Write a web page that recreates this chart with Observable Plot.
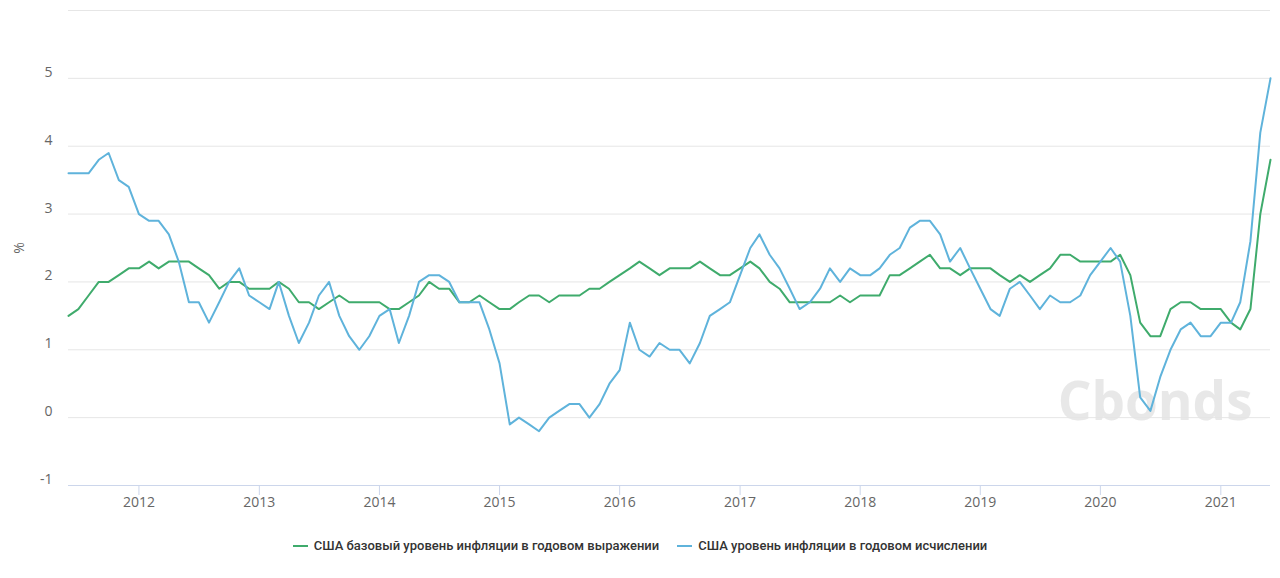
<!DOCTYPE html>
<html>
<head>
<meta charset="utf-8">
<script src="https://cdn.jsdelivr.net/npm/d3@7"></script>
<script src="https://cdn.jsdelivr.net/npm/@observablehq/plot@0.6"></script>
<style>
  html, body { margin: 0; padding: 0; background: #fff; }
  #chart { width: 1280px; }
  .legend { display: flex; justify-content: center; align-items: center; gap: 18px;
            font-family: Roboto, sans-serif; font-size: 13px; font-weight: 500; color: #333;
            margin-top: 13px; }
  .legend .item { display: flex; align-items: center; gap: 6px; }
  .legend .sw { display: inline-block; width: 15px; height: 2px; }
</style>
</head>
<body>
<div id="chart"></div>
<script>
// Monthly observations, first period May 2011; each value drawn at the end of its month
const firstPeriod = "2011-05-01";
const seriesNames = [
  "США базовый уровень инфляции в годовом выражении",
  "США уровень инфляции в годовом исчислении"
];
const seriesColors = ["#3fab6c", "#5fb3db"];

// Core CPI, % YoY
const coreCPI = [
  1.5, 1.6, 1.8, 2.0, 2.0, 2.1, 2.2, 2.2,
  2.3, 2.2, 2.3, 2.3, 2.3, 2.2, 2.1, 1.9, 2.0, 2.0, 1.9, 1.9,
  1.9, 2.0, 1.9, 1.7, 1.7, 1.6, 1.7, 1.8, 1.7, 1.7, 1.7, 1.7,
  1.6, 1.6, 1.7, 1.8, 2.0, 1.9, 1.9, 1.7, 1.7, 1.8, 1.7, 1.6,
  1.6, 1.7, 1.8, 1.8, 1.7, 1.8, 1.8, 1.8, 1.9, 1.9, 2.0, 2.1,
  2.2, 2.3, 2.2, 2.1, 2.2, 2.2, 2.2, 2.3, 2.2, 2.1, 2.1, 2.2,
  2.3, 2.2, 2.0, 1.9, 1.7, 1.7, 1.7, 1.7, 1.7, 1.8, 1.7, 1.8,
  1.8, 1.8, 2.1, 2.1, 2.2, 2.3, 2.4, 2.2, 2.2, 2.1, 2.2, 2.2,
  2.2, 2.1, 2.0, 2.1, 2.0, 2.1, 2.2, 2.4, 2.4, 2.3, 2.3, 2.3,
  2.3, 2.4, 2.1, 1.4, 1.2, 1.2, 1.6, 1.7, 1.7, 1.6, 1.6, 1.6,
  1.4, 1.3, 1.6, 3.0, 3.8
];
// Headline CPI, % YoY
const headlineCPI = [
  3.6, 3.6, 3.6, 3.8, 3.9, 3.5, 3.4, 3.0,
  2.9, 2.9, 2.7, 2.3, 1.7, 1.7, 1.4, 1.7, 2.0, 2.2, 1.8, 1.7,
  1.6, 2.0, 1.5, 1.1, 1.4, 1.8, 2.0, 1.5, 1.2, 1.0, 1.2, 1.5,
  1.6, 1.1, 1.5, 2.0, 2.1, 2.1, 2.0, 1.7, 1.7, 1.7, 1.3, 0.8,
  -0.1, 0.0, -0.1, -0.2, 0.0, 0.1, 0.2, 0.2, 0.0, 0.2, 0.5, 0.7,
  1.4, 1.0, 0.9, 1.1, 1.0, 1.0, 0.8, 1.1, 1.5, 1.6, 1.7, 2.1,
  2.5, 2.7, 2.4, 2.2, 1.9, 1.6, 1.7, 1.9, 2.2, 2.0, 2.2, 2.1,
  2.1, 2.2, 2.4, 2.5, 2.8, 2.9, 2.9, 2.7, 2.3, 2.5, 2.2, 1.9,
  1.6, 1.5, 1.9, 2.0, 1.8, 1.6, 1.8, 1.7, 1.7, 1.8, 2.1, 2.3,
  2.5, 2.3, 1.5, 0.3, 0.1, 0.6, 1.0, 1.3, 1.4, 1.2, 1.2, 1.4,
  1.4, 1.7, 2.6, 4.2, 5.0
];

const yTickLabels = [-1, 0, 1, 2, 3, 4, 5];
const yGrid = [-1, 0, 1, 2, 3, 4, 5, 6];
const xTickYears = ["2012","2013","2014","2015","2016","2017","2018","2019","2020","2021"];

const start = new Date(firstPeriod + "T00:00:00Z");
const rows = [];
[coreCPI, headlineCPI].forEach((vals, s) => {
  vals.forEach((v, i) => {
    rows.push({series: seriesNames[s], date: d3.utcMonth.offset(start, i + 1), value: v});
  });
});
const xTicks = xTickYears.map(y => new Date(y + "-01-01T00:00:00Z"));

const chart = Plot.plot({
  width: 1280,
  height: 525,
  marginLeft: 68,
  marginRight: 10,
  marginTop: 10,
  marginBottom: 40,
  style: {fontFamily: "'Open Sans', sans-serif", fontSize: "14px", color: "#666", background: "#fff"},
  x: {type: "utc", domain: [rows[0].date, rows[rows.length - 1].date]},
  y: {domain: [-1, 6]},
  color: {domain: seriesNames, range: seriesColors},
  marks: [
    Plot.ruleY(yGrid, {stroke: "#e6e6e6", strokeWidth: 1}),
    Plot.text(["Cbonds"], {frameAnchor: "bottom-right", dx: -18, dy: -66, lineAnchor: "bottom",
      fontSize: 53, fontWeight: "bold", fontFamily: "'Open Sans', 'Liberation Sans', sans-serif",
      fill: "#e4e4e4", fillOpacity: 0.85}),
    Plot.ruleY([-1], {stroke: "#ccd6eb", strokeWidth: 1}),
    Plot.axisY(yTickLabels, {tickSize: 0, tickPadding: 16, dy: -6, fill: "#666",
      tickFormat: d => String(d),
      label: "%", labelAnchor: "center", labelArrow: "none", labelOffset: 54}),
    Plot.axisX(xTicks, {tickSize: 10, tickPadding: 2, stroke: "#ccd6eb", fill: "#666",
      tickFormat: d3.utcFormat("%Y"), label: null}),
    Plot.line(rows, {x: "date", y: "value", z: "series", stroke: "series", strokeWidth: 2,
      curve: "linear"})
  ]
});
document.getElementById("chart").appendChild(chart);

const legend = document.createElement("div");
legend.className = "legend";
seriesNames.forEach((n, i) => {
  const it = document.createElement("div");
  it.className = "item";
  const sw = document.createElement("span");
  sw.className = "sw";
  sw.style.background = seriesColors[i];
  const t = document.createElement("span");
  t.textContent = n;
  it.appendChild(sw); it.appendChild(t);
  legend.appendChild(it);
});
document.getElementById("chart").appendChild(legend);
</script>
</body>
</html>
